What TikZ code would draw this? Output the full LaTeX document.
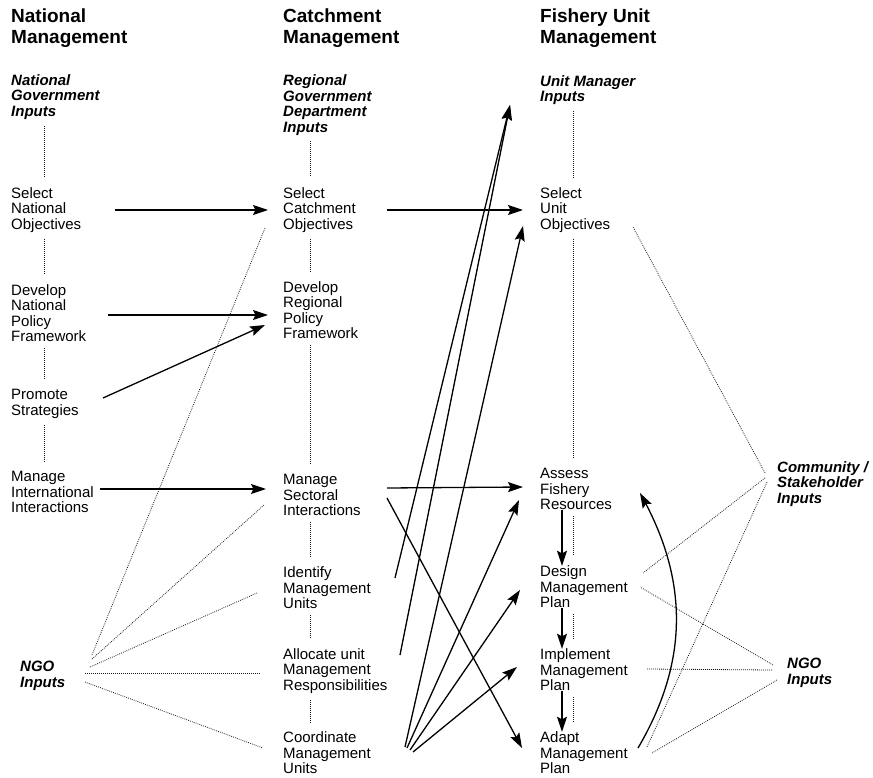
\documentclass[tikz,border=0pt]{standalone}
\usepackage{fontspec}
\setmainfont{Liberation Sans}
\usetikzlibrary{arrows.meta,bending}

\begin{document}
\begin{tikzpicture}[x=1pt,y=-1pt,
  hd/.style={anchor=west,align=left,inner sep=0pt,font=\fontsize{19}{21}\selectfont\bfseries},
  txt/.style={anchor=west,align=left,inner sep=0pt,font=\fontsize{15}{15.5}\selectfont},
  inp/.style={txt,font=\fontsize{15}{15.5}\selectfont\bfseries\itshape},
  flow/.style={-{Stealth[length=15pt,width=10pt,inset=2.5pt]},line width=1.3pt},
  dots/.style={line width=0.8pt,dash pattern=on 0.8pt off 1.2pt,black!90,shorten <=6pt,shorten >=10pt}]
\useasboundingbox (0,0) rectangle (873,778);

% column headers
\node[hd] (hnat)  at (11,28)  {National\\Management};
\node[hd] (hcat)  at (283,28) {Catchment\\Management};
\node[hd] (hfish) at (540,28) {Fishery Unit\\Management};

% inputs
\node[inp] (nginp) at (11,97)   {National\\Government\\Inputs};
\node[inp] (rginp) at (283,105) {Regional\\Government\\Department\\Inputs};
\node[inp] (uminp) at (540,90)  {Unit Manager\\Inputs};
\node[inp] (ngol)  at (20,676)  {NGO\\Inputs};
\node[inp] (comm)  at (777,484) {Community /\\Stakeholder\\Inputs};
\node[inp] (ngor)  at (787,673) {NGO\\Inputs};

% national level
\node[txt] (selnat) at (11,210) {Select\\National\\Objectives};
\node[txt] (devnat) at (11,313) {Develop\\National\\Policy\\Framework};
\node[txt] (promo)  at (11,404) {Promote\\Strategies};
\node[txt] (manint) at (11,492) {Manage\\International\\Interactions};

% catchment level
\node[txt] (selcat) at (283,210) {Select\\Catchment\\Objectives};
\node[txt] (devreg) at (283,310) {Develop\\Regional\\Policy\\Framework};
\node[txt] (mansec) at (283,495) {Manage\\Sectoral\\Interactions};
\node[txt] (ident)  at (283,588) {Identify\\Management\\Units};
\node[txt] (alloc)  at (283,671) {Allocate unit\\Management\\Responsibilities};
\node[txt] (coord)  at (283,753) {Coordinate\\Management\\Units};

% fishery unit level
\node[txt] (selunit) at (540,210) {Select\\Unit\\Objectives};
\node[txt] (assess)  at (540,489) {Assess\\Fishery\\Resources};
\node[txt] (design)  at (540,587) {Design\\Management\\Plan};
\node[txt] (implem)  at (540,670) {Implement\\Management\\Plan};
\node[txt] (adapt)   at (540,753) {Adapt\\Management\\Plan};

\coordinate (c1) at (44,0);
\coordinate (c2) at (310,0);
\coordinate (c3) at (573,0);

% dotted links down each column
\draw[dots] (nginp.south -| c1) -- (selnat.north -| c1);
\draw[dots] (selnat.south -| c1) -- (devnat.north -| c1);
\draw[dots] (devnat.south -| c1) -- (promo.north -| c1);
\draw[dots] (promo.south -| c1) -- (manint.north -| c1);
\draw[dots] (rginp.south -| c2) -- (selcat.north -| c2);
\draw[dots] (selcat.south -| c2) -- (devreg.north -| c2);
\draw[dots] (devreg.south -| c2) -- (mansec.north -| c2);
\draw[dots] (mansec.south -| c2) -- (ident.north -| c2);
\draw[dots] (ident.south -| c2) -- (alloc.north -| c2);
\draw[dots] (alloc.south -| c2) -- (coord.north -| c2);
\draw[dots] (uminp.south -| c3) -- (selunit.north -| c3);
\draw[dots] (selunit.south -| c3) -- (assess.north -| c3);
\draw[dots] (assess.south -| c3) -- (design.north -| c3);
\draw[dots] (design.south -| c3) -- (implem.north -| c3);
\draw[dots] (implem.south -| c3) -- (adapt.north -| c3);

% NGO and community inputs
\draw[dots,shorten <=0pt,shorten >=0pt] ([xshift=72pt,yshift=21pt]ngol.west) -- ([xshift=-18pt,yshift=-18pt]selcat.west);
\draw[dots,shorten <=0pt,shorten >=0pt] ([xshift=72pt,yshift=17pt]ngol.west) -- ([xshift=-19pt,yshift=-10pt]mansec.west);
\draw[dots,shorten <=0pt,shorten >=0pt] ([xshift=70pt,yshift=9pt]ngol.west) -- ([xshift=-26pt,yshift=-5pt]ident.west);
\draw[dots,shorten <=0pt,shorten >=0pt] ([xshift=65pt,yshift=3pt]ngol.west) -- ([xshift=-23pt,yshift=-2pt]alloc.west);
\draw[dots,shorten <=0pt,shorten >=0pt] ([xshift=65pt,yshift=-6pt]ngol.west) -- ([xshift=-20pt,yshift=5pt]coord.west);
\draw[dots,shorten <=0pt,shorten >=0pt] ([xshift=-12pt,yshift=11pt]comm.west) -- ([xshift=93pt,yshift=-17pt]selunit.west);
\draw[dots,shorten <=0pt,shorten >=0pt] ([xshift=-12pt,yshift=6pt]comm.west) -- ([xshift=103pt,yshift=14pt]design.west);
\draw[dots,shorten <=0pt,shorten >=0pt] ([xshift=-10pt,yshift=2pt]comm.west) -- ([xshift=107pt,yshift=6pt]adapt.west);
\draw[dots,shorten <=0pt,shorten >=0pt] ([xshift=-14pt,yshift=8pt]ngor.west) -- ([xshift=100pt,yshift=0pt]design.west);
\draw[dots,shorten <=0pt,shorten >=0pt] ([xshift=-15pt,yshift=3pt]ngor.west) -- ([xshift=107pt,yshift=1pt]implem.west);
\draw[dots,shorten <=0pt,shorten >=0pt] ([xshift=-10pt,yshift=-7pt]ngor.west) -- ([xshift=112pt,yshift=0pt]adapt.west);

% national to catchment
\draw[flow] ([xshift=104pt]selnat.west) -- ([xshift=-15pt]selcat.west);
\draw[flow] ([xshift=97pt,yshift=-2pt]devnat.west) -- ([xshift=-15pt,yshift=-5pt]devreg.west);
\draw[flow] ([xshift=92pt,yshift=6pt]promo.west) -- ([xshift=-18pt,yshift=-15pt]devreg.west);
\draw[flow] ([xshift=89pt,yshift=3pt]manint.west) -- ([xshift=-17pt,yshift=6pt]mansec.west);

% catchment to fishery unit
\draw[flow] ([xshift=104pt]selcat.west) -- ([xshift=-17pt]selunit.west);
\draw[flow] ([xshift=104pt,yshift=7pt]mansec.west) -- ([xshift=-17pt,yshift=2pt]assess.west);
\draw[flow] ([xshift=104pt,yshift=-3pt]mansec.west) -- ([xshift=-18pt,yshift=5pt]adapt.west);
\draw[flow] ([xshift=112pt,yshift=10pt]ident.west) -- ([xshift=-30pt,yshift=-15pt]uminp.west);
\draw[flow] ([xshift=117pt,yshift=16pt]alloc.west) -- ([xshift=-30pt,yshift=-15pt]uminp.west);
\draw[flow] ([xshift=122pt,yshift=6pt]coord.west) -- ([xshift=-17pt,yshift=-16pt]selunit.west);
\draw[flow] ([xshift=124pt,yshift=5pt]coord.west) -- ([xshift=-21pt,yshift=-11pt]assess.west);
\draw[flow] ([xshift=127pt,yshift=3pt]coord.west) -- ([xshift=-20pt,yshift=-3pt]design.west);
\draw[flow] ([xshift=130pt,yshift=1pt]coord.west) -- ([xshift=-23pt,yshift=3pt]implem.west);

% fishery unit cycle
\draw[flow] ([xshift=22pt]assess.south west) -- ([xshift=22pt]design.north west);
\draw[flow] ([xshift=22pt]design.south west) -- ([xshift=22pt]implem.north west);
\draw[flow] ([xshift=22pt]implem.south west) -- ([xshift=22pt]adapt.north west);
\draw[flow] ([xshift=98pt,yshift=5pt]adapt.west) to[bend right=30] ([xshift=100pt,yshift=-4pt]assess.west);
\end{tikzpicture}
\end{document}
